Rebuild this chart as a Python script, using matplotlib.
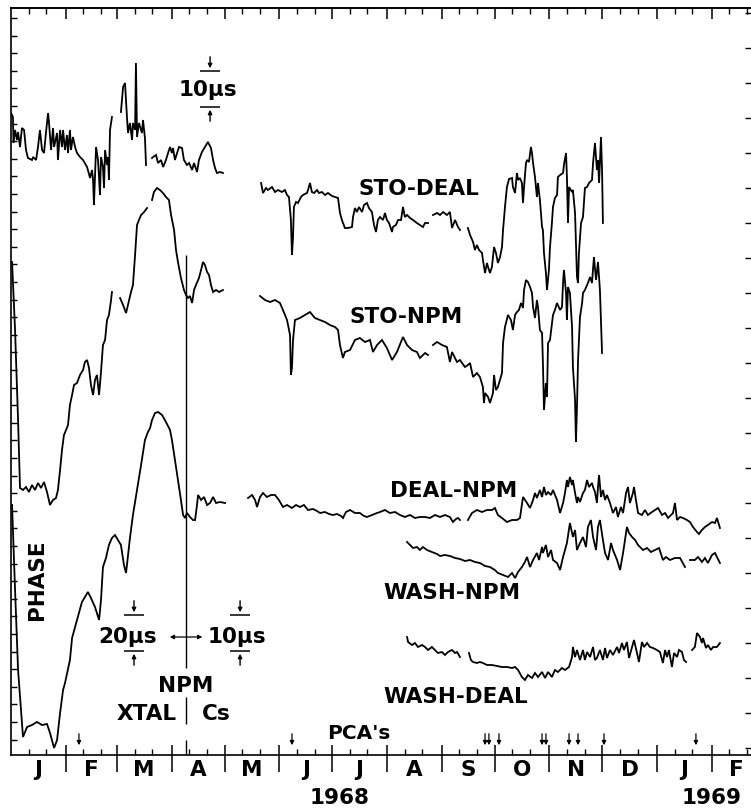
import matplotlib
matplotlib.use("Agg")
import matplotlib.pyplot as plt
import numpy as np

nan = np.nan

# x: days since 1 Jan 1968, y: phase (chart units, increasing downward)
sto_deal_day = [
    0.0, 1.1, 1.4, 2.3, 3.4, 4.0, 5.1, 6.2, 7.4, 8.5, 9.6, 11.9, 12.5, 14.2, 15.3, 16.4, 17.6, 18.7,
    19.8, 21.0, 21.5, 22.7, 23.8, 24.4, 26.1, 26.6, 27.8, 28.9, 29.5, 30.6, 31.7, 32.3, 33.4, 34.0,
    35.1, 36.3, 37.4, 39.1, 40.8, 43.1, 44.8, 45.9, 46.5, 47.0, 47.6, 48.2, 49.3, 49.9, 50.4, 51.0,
    52.1, 52.7, 53.3, 54.4, 55.0, 55.5, 56.1, 57.2, nan,
    62.3, 63.5, 64.6, 65.7, 66.3, 67.4, 68.6, 69.1, 70.3, 70.8, 71.4, 72.5, 74.2, 74.8, 75.9, 76.5, nan,
    79.9, 80.5, 82.2, 83.3, 85.0, 86.2, 87.8, 89.0, 90.1, 91.2, 91.8, 92.9, 94.1, 95.2, 96.9, 98.0,
    99.7, 100.9, 102.6, 103.7, 105.4, 106.5, 108.2, 109.9, 111.6, 113.3, 114.5, 115.6, 116.7, 118.4,
    120.1, nan,
    141.7, 142.8, 144.5, 145.6, 147.9, 149.6, 151.3, 153.5, 155.2, 156.4, 157.5, 158.6, 159.2, 159.8,
    160.3, 161.5, 162.6, 164.3, 165.4, 167.7, 168.3, 169.4, 170.5, 171.7, 173.4, 174.5, 176.2, 177.9,
    179.6, 181.9, 183.6, 185.3, 186.4, 187.5, 189.2, 190.9, 193.2, 193.8, 194.9, 196.0, 197.2, 198.9,
    200.0, 201.7, 202.8, 204.5, 205.7, 206.8, 207.9, 209.1, 210.8, 211.9, 213.0, 214.2, 215.9, 216.4,
    218.1, 219.3, 221.0, 222.1, 223.2, 224.4, 226.1, 227.8, 230.0, 231.7, 233.4, 234.6, 236.3, nan,
    239.1, 241.4, 243.1, 244.8, 247.0, 248.7, 249.9, 251.6, 253.3, 254.4, nan,
    258.9, 260.1, 261.8, 262.9, 264.0, 265.2, 266.9, 267.4, 268.6, 269.7, 270.3, 271.4, 272.5, 273.7,
    274.8, 275.9, 277.1, 278.2, 278.8, 279.9, 281.0, 282.2, 283.9, 284.4, 285.6, 286.7, 287.3, 288.4,
    289.5, 290.1, 290.7, 291.8, 292.4, 293.5, 294.6, 295.2, 295.8, 296.9, 298.0, 298.6, 299.7, 300.9,
    301.4, 302.0, 303.1, 303.7, 304.8, 305.4, 306.5, 307.1, 308.2, 309.4, 309.9, 311.1, 312.8, 313.3,
    314.5, 315.0, 315.6, 316.2, 317.9, 318.4, 319.6, 320.7, 321.3, 321.8, 323.0, 324.1, 325.2, 326.4,
    327.5, 329.2, 329.8, 330.9, 332.0, 332.6, 333.2, 334.3, 334.9, 335.4,
]
sto_deal_phase = [
    113, 117, 143, 130, 140, 132, 147, 128, 130, 150, 158, 160, 157, 160, 147, 130, 150, 153,
    133, 113, 122, 150, 128, 147, 133, 160, 130, 147, 130, 150, 135, 153, 130, 150,
    137, 147, 153, 157, 160, 167, 178, 170, 180, 205, 175, 147, 160, 178, 195, 157,
    167, 188, 150, 165, 157, 180, 130, 117, nan,
    112, 87, 83, 117, 133, 123, 140, 123, 130, 63, 137, 123, 133, 120, 138, 165, nan,
    158, 157, 155, 163, 160, 167, 160, 153, 147, 153, 148, 160, 153, 147, 148, 160,
    165, 163, 170, 163, 172, 160, 152, 147, 142, 148, 160, 168, 173, 172,
    173, nan,
    183, 193, 188, 190, 187, 192, 190, 192, 190, 195, 197, 220, 255, 237,
    207, 202, 203, 197, 195, 193, 190, 183, 192, 193, 190, 193, 192, 195,
    193, 196, 197, 198, 213, 220, 228, 228, 227, 217, 208, 212, 207, 212,
    205, 203, 208, 212, 225, 232, 220, 217, 220, 213, 220, 223, 232, 227,
    225, 220, 220, 207, 217, 215, 218, 220, 223, 225, 227, 223, 223, nan,
    215, 213, 215, 212, 215, 212, 228, 220, 227, 230, nan,
    228, 235, 242, 250, 245, 250, 253, 260, 273, 263, 267, 273, 267, 247,
    253, 263, 257, 247, 230, 207, 187, 179, 178, 187, 193, 173, 180, 178,
    183, 203, 187, 163, 160, 162, 147, 153, 163, 177, 197, 183, 200, 227,
    230, 253, 273, 290, 270, 247, 223, 207, 198, 195, 177, 175, 173, 165,
    153, 177, 223, 187, 192, 190, 213, 277, 283, 253, 223, 217, 188, 187,
    183, 180, 163, 143, 170, 160, 183, 137, 170, 223,
]

sto_npm_day = [
    0.6, 2.3, 4.0, 5.1, 6.8, 8.5, 10.2, 11.9, 13.6, 15.3, 17.0, 18.7, 20.4, 22.1, 23.8, 25.5, 26.6,
    27.8, 28.9, 30.0, 31.2, 32.3, 33.4, 34.6, 35.7, 37.4, 39.1, 40.8, 41.9, 43.1, 44.2, 45.3, 46.5,
    47.6, 48.7, 49.9, 51.0, 52.1, 53.3, 54.4, 55.5, 56.7, 57.2, nan,
    61.8, 63.5, 65.2, 66.9, 68.0, 69.1, 70.3, 71.4, 72.5, 73.7, 75.4, 77.1, nan,
    79.9, 81.0, 82.7, 84.4, 86.1, 87.8, 89.5, 90.7, 92.4, 93.5, 94.6, 96.3, 98.0, 99.2, 100.3, 101.4,
    102.6, 103.7, 104.8, 106.5, 107.7, 108.8, 109.9, 111.1, 112.2, 113.3, 114.5, 116.2, 117.9, 120.1, nan,
    141.1, 143.9, 146.8, 149.6, 152.4, 154.1, 156.4, 158.1, 158.6, 159.2, 159.8, 160.9, 163.7, 166.6,
    169.4, 172.2, 175.1, 177.9, 180.7, 183.6, 185.3, 186.4, 188.1, 189.2, 192.1, 194.9, 197.7, 200.6,
    203.4, 205.1, 207.4, 210.2, 213.0, 215.9, 218.7, 222.1, 224.4, 227.2, 230.0, 231.7, 234.6, 236.3, nan,
    239.1, 241.4, 244.2, 247.0, 248.7, 249.9, 252.7, 254.4, 257.2, 258.9, 260.1, 261.8, 264.0, 265.7,
    267.4, 268.0, 268.6, 270.3, 271.4, 273.1, 273.7, 274.8, 275.9, 278.2, 278.8, 279.9, 281.6, 283.3,
    284.4, 285.6, 286.7, 287.8, 289.0, 290.1, 290.7, 291.8, 292.9, 294.1, 295.2, 295.8, 296.9, 298.0,
    298.6, 299.7, 300.9, 301.4, 302.0, 303.1, 303.7, 304.3, 305.4, 307.1, 308.2, 309.4, 311.1, 312.2,
    312.8, 313.3, 314.5, 315.0, 315.6, 316.7, 317.9, 318.4, 319.6, 320.1, 320.7, 321.3, 322.4, 323.6,
    324.1, 325.2, 326.9, 328.1, 329.2, 330.3, 331.5, 332.6, 333.7, 334.9,
]
sto_npm_phase = [
    262, 330, 420, 488, 490, 487, 492, 485, 490, 483, 488, 482, 492, 505, 500, 498, 490,
    470, 450, 435, 430, 425, 405, 395, 385, 383, 375, 370, 362, 360, 368, 385, 395,
    380, 375, 395, 372, 345, 340, 320, 315, 300, 292, nan,
    298, 305, 313, 300, 292, 285, 255, 225, 220, 215, 212, 208, nan,
    200, 192, 188, 190, 193, 197, 200, 215, 230, 250, 262, 278, 290, 295, 298, 296,
    303, 290, 285, 278, 270, 262, 265, 272, 275, 285, 292, 290, 292, 290, nan,
    296, 300, 302, 300, 303, 310, 320, 335, 375, 368, 340, 320, 318, 315,
    312, 318, 320, 322, 325, 327, 330, 345, 358, 352, 350, 340, 338, 342,
    340, 352, 345, 340, 348, 360, 352, 337, 345, 350, 352, 358, 353, 355, nan,
    345, 342, 345, 347, 362, 352, 362, 360, 367, 365, 363, 377, 373, 377,
    387, 403, 393, 397, 403, 393, 375, 390, 387, 373, 343, 327, 315, 320,
    330, 315, 312, 310, 303, 308, 290, 280, 282, 287, 293, 307, 318, 300,
    307, 330, 333, 363, 410, 383, 397, 343, 340, 315, 310, 303, 310, 307,
    283, 270, 293, 320, 287, 293, 327, 367, 400, 442, 407, 360, 317, 303,
    293, 290, 283, 277, 283, 257, 280, 262, 290, 353,
]

deal_npm_day = [
    0.6, 2.3, 4.0, 6.8, 9.1, 11.9, 14.7, 17.6, 20.4, 22.1, 24.4, 26.1, 27.8, 29.5, 30.6, 33.4, 34.6,
    37.4, 40.2, 41.9, 43.6, 45.3, 47.6, 49.9, 51.0, 52.1, 53.8, 55.5, 57.2, 58.9, 60.6, 62.3, 64.0,
    65.2, 66.3, 67.4, 69.1, 71.4, 73.7, 75.9, 77.6, 78.8, 79.9, 81.6, 83.3, 85.6, 87.8, 90.1, 91.2,
    92.9, 94.6, 96.3, 97.5, 98.6, 99.7, 101.4, 103.1, 104.3, 105.4, 106.0, 107.7, 109.4, 111.1, 112.8,
    114.5, 116.2, 118.4, 121.3, nan,
    134.3, 136.6, 138.3, 139.4, 141.1, 142.8, 145.0, 147.3, 149.6, 151.8, 154.1, 156.4, 159.2, 161.5,
    163.7, 166.0, 168.3, 171.1, 173.4, 175.1, 177.9, 180.2, 182.4, 184.7, 187.0, 188.1, 189.8, 192.1,
    194.9, 197.7, 200.0, 201.7, 204.5, 207.4, 209.1, 211.9, 214.7, 217.6, 220.4, 223.2, 226.1, 228.9,
    231.7, 234.6, 237.4, 240.2, 243.1, 245.9, 248.7, 250.4, 252.1, 253.3, 254.4, nan,
    258.9, 261.2, 264.0, 266.9, 269.7, 272.5, 274.2, 275.9, 278.2, 281.0, 283.9, 286.7, 288.4, 290.1,
    292.4, 294.1, 295.8, 296.9, 298.0, 299.7, 300.9, 302.0, 303.1, 304.3, 306.0, 307.1, 309.4, 311.1,
    312.8, 313.9, 315.0, 315.6, 316.7, 317.9, 318.4, 319.6, 320.7, 321.3, 322.4, 324.1, 325.2, 326.4,
    327.5, 329.2, 329.8, 330.9, 332.0, 332.6, 333.2, 334.3, 335.4, 336.6, 337.7, 339.4, 341.1, 342.8,
    343.9, 345.6, 346.8, 348.5, 349.6, 350.7, 352.4, 353.0, 354.1, 355.3, 357.5, 359.2, 360.9, 363.2,
    364.9, 366.6, 368.9, 370.6, 372.3, 375.1, 376.2, 377.4, 379.1, 380.8, 383.0, 384.7, 386.4, 388.7,
    389.8, 391.5, 393.2, 394.9, 397.2, 398.9, 400.0, 401.7,
]
deal_npm_phase = [
    505, 590, 670, 737, 727, 725, 722, 725, 724, 733, 748, 740, 713, 690, 683, 660, 638,
    620, 602, 597, 592, 598, 607, 620, 600, 567, 558, 545, 538, 535, 540, 545, 565,
    573, 555, 538, 515, 490, 465, 440, 432, 428, 420, 413, 412, 415, 422, 430, 440,
    460, 480, 500, 515, 518, 513, 517, 520, 520, 505, 495, 500, 497, 505, 503,
    497, 503, 502, 503, nan,
    498, 495, 500, 507, 497, 493, 497, 495, 495, 500, 507, 505, 508, 505,
    507, 505, 510, 509, 511, 513, 512, 514, 515, 514, 516, 518, 512, 510,
    513, 513, 516, 517, 515, 513, 512, 510, 513, 512, 515, 517, 515, 518,
    517, 517, 518, 515, 517, 515, 517, 522, 519, 518, 520, nan,
    520, 513, 510, 512, 510, 510, 508, 515, 518, 522, 520, 520, 518, 497,
    503, 508, 500, 493, 498, 490, 497, 487, 495, 492, 495, 490, 500, 513,
    503, 493, 480, 487, 477, 485, 480, 493, 503, 497, 502, 493, 490, 480,
    487, 483, 487, 492, 503, 487, 475, 497, 490, 500, 495, 503, 513, 507,
    517, 507, 513, 493, 487, 503, 493, 487, 500, 513, 515, 510, 515, 512,
    510, 508, 515, 513, 518, 513, 503, 520, 517, 518, 520, 522, 527, 532,
    534, 530, 527, 525, 522, 523, 518, 528,
]

wash_npm_day = [
    224.4, 226.1, 227.8, 230.0, 231.7, 233.4, 235.7, 238.5, 241.4, 243.1, 245.9, 248.7, 251.6, 254.4,
    257.2, 260.1, 262.9, 265.7, 268.6, 271.4, 274.2, 275.9, 278.8, 281.6, 283.9, 285.6, 287.3, 289.5,
    291.2, 292.4, 294.1, 295.8, 298.0, 299.2, 300.9, 301.4, 303.1, 304.3, 306.0, 307.1, 309.4, 311.1,
    312.8, 315.0, 316.7, 318.4, 319.6, 320.7, 322.4, 324.1, 325.8, 326.9, 328.6, 329.8, 331.5, 332.6,
    333.7, 335.4, 336.6, 338.3, 340.0, 341.1, 343.4, 345.1, 346.8, 347.9, 349.0, 350.2, 351.9, 353.6,
    355.3, 358.1, 360.4, 362.6, 364.9, 367.2, 369.4, 371.1, 373.4, 376.2, 379.1, 381.9, nan,
    384.7, 387.5, 389.3, 391.5, 393.2, 394.9, 397.2, 398.9, 400.0, 401.7,
]
wash_npm_phase = [
    542, 545, 548, 547, 550, 547, 550, 552, 554, 556, 555, 556, 558, 559,
    561, 560, 562, 563, 566, 567, 570, 573, 575, 577, 573, 578, 572, 567,
    562, 557, 567, 560, 553, 560, 547, 553, 545, 557, 550, 560, 563, 570,
    557, 543, 523, 537, 530, 550, 543, 537, 547, 527, 520, 537, 550, 527,
    520, 540, 553, 560, 543, 550, 560, 570, 553, 540, 527, 533, 537, 540,
    545, 550, 548, 552, 550, 548, 560, 557, 560, 558, 558, 567, nan,
    560, 560, 557, 562, 558, 563, 555, 553, 557, 563,
]

wash_deal_day = [
    224.4, 225.0, 227.2, 228.9, 230.6, 232.9, 234.6, 236.3, 238.5, 240.2, 241.9, 244.2, 245.9, 247.6,
    249.9, 251.6, 252.7, 254.4, nan,
    259.5, 260.6, 261.8, 264.0, 265.7, 267.4, 269.7, 272.5, 275.4, 278.2, 281.0, 283.9, 285.6, 287.3,
    289.5, 291.2, 292.9, 295.2, 296.9, 298.6, 300.9, 302.6, 304.3, 306.5, 308.2, 309.9, 312.2, 313.9,
    316.2, 317.9, 318.4, 319.6, 320.7, 322.4, 324.1, 325.2, 326.4, 328.1, 329.8, 330.9, 332.0, 333.7,
    335.4, 336.6, 337.7, 339.4, 341.1, 343.4, 344.5, 346.2, 347.3, 349.0, 350.2, 351.9, 353.0, 354.7,
    355.8, 357.5, 358.7, 360.4, 362.0, 363.8, 366.0, 367.7, 369.4, 370.6, 371.7, 372.8, 374.5, 375.7,
    377.4, 378.5, 380.2, 381.3, 382.5, nan,
    385.9, 387.5, 388.7, 390.4, 391.5, 392.1, 393.8, 394.9, 396.6, 397.8, 400.0, 401.7,
]
wash_deal_phase = [
    637, 642, 645, 643, 647, 645, 647, 650, 647, 650, 653, 652, 655, 652,
    650, 653, 652, 657, nan,
    653, 660, 662, 663, 662, 663, 665, 665, 666, 667, 667, 668, 667, 670,
    677, 680, 675, 678, 673, 677, 672, 678, 672, 677, 670, 672, 668, 670,
    667, 657, 647, 657, 650, 660, 650, 660, 652, 657, 647, 660, 658, 650,
    660, 648, 658, 650, 655, 647, 653, 643, 650, 642, 658, 647, 640, 653,
    662, 642, 647, 643, 647, 648, 650, 652, 663, 650, 657, 650, 667, 653,
    657, 650, 652, 660, 662, nan,
    650, 647, 633, 637, 643, 638, 648, 645, 650, 647, 647, 643,
]

# solar proton events (PCA's)
pca_days = [38.5, 159.2, 268.6, 270.8, 276.5, 300.9, 303.1, 316.2, 321.3, 336.0, 388.1]

month_starts = [0, 31, 60, 91, 121, 152, 182, 213, 244, 274, 305, 335, 366, 397, 425]
month_labels = ["J", "F", "M", "A", "M", "J", "J", "A", "S", "O", "N", "D", "J", "F"]
npm_switch_day = 99.2

FONT = dict(family="DejaVu Sans", fontweight="bold", fontsize=15.5)

fig = plt.figure(figsize=(7.51, 8.11), dpi=100)
ax = fig.add_axes([11 / 751, 56 / 811, 740 / 751, 747 / 811])
ax.set_xlim(0, 419.3)
ax.set_ylim(755, 8)

for d, p in [(sto_deal_day, sto_deal_phase), (sto_npm_day, sto_npm_phase),
             (deal_npm_day, deal_npm_phase), (wash_npm_day, wash_npm_phase),
             (wash_deal_day, wash_deal_phase)]:
    ax.plot(d, p, color="black", lw=1.3, solid_joinstyle="miter")

# spines / ticks
for s in ["left", "top", "bottom"]:
    ax.spines[s].set_linewidth(1.2)
ax.spines["right"].set_visible(False)

centers = [(a + b) / 2 for a, b in zip(month_starts[:-1], month_starts[1:])]
ax.set_xticks(centers)
ax.set_xticklabels([])
ax.tick_params(axis="x", which="major", length=0)
ten_days = [m + k for m in month_starts[:-1] for k in (10, 20)]
ax.set_xticks(ten_days, minor=True)
ax.tick_params(axis="x", which="minor", direction="in", length=4, width=1, bottom=True, top=False)
ax.vlines(month_starts[1:-1], 745, 772, color="black", lw=1.1, clip_on=False)
for c, lab in zip(centers, month_labels):
    ax.text(c, 770, lab, ha="center", va="center", clip_on=False, **FONT)
ax.text(186, 798, "1968", ha="center", va="center", **FONT)
ax.text(397, 798, "1969", ha="center", va="center", **FONT)

top = ax.secondary_xaxis("top")
top.set_xticks(month_starts[1:-1])
top.set_xticks(ten_days, minor=True)
top.tick_params(which="major", direction="in", length=8, width=1.1, labeltop=False)
top.tick_params(which="minor", direction="in", length=4, width=1, labeltop=False)
top.spines["top"].set_linewidth(1.2)

ax.set_yticks(np.arange(18, 750, 17.6))
ax.tick_params(axis="y", direction="in", length=4, width=1, labelleft=False)
right = ax.secondary_yaxis("right")
right.set_yticks(np.arange(13, 750, 35))
right.tick_params(direction="in", length=4, width=1, labelright=False)
right.spines["right"].set_visible(False)

# NPM clock switch
ax.vlines(npm_switch_day, 255, 668, color="black", lw=1.0)
ax.vlines(npm_switch_day, 697, 724, color="black", lw=1.0)
ax.vlines(npm_switch_day, 740, 755, color="black", lw=1.0)

# PCA markers
for d in pca_days:
    ax.annotate("", xy=(d, 748), xytext=(d, 731),
                arrowprops=dict(arrowstyle="-|>", lw=0.9, color="black", mutation_scale=6))


def scale_mark(x, y_top, y_bot, half):
    ax.hlines([y_top, y_bot], x - half, x + half, color="black", lw=1.1)
    ax.annotate("", xy=(x, y_top), xytext=(x, y_top - 17),
                arrowprops=dict(arrowstyle="-|>", lw=1, color="black", mutation_scale=6))
    ax.annotate("", xy=(x, y_bot), xytext=(x, y_bot + 17),
                arrowprops=dict(arrowstyle="-|>", lw=1, color="black", mutation_scale=6))


scale_mark(112.8, 71, 107, 5.5)
ax.text(111.5, 90, "10μs", ha="center", va="center", **FONT)
scale_mark(69.7, 615, 651, 5.7)
ax.text(66.3, 637, "20μs", ha="center", va="center", **FONT)
scale_mark(129.8, 615, 651, 5.7)
ax.text(128.1, 637, "10μs", ha="center", va="center", **FONT)
ax.annotate("", xy=(88.4, 637), xytext=(110.0, 637),
            arrowprops=dict(arrowstyle="<|-|>", lw=0.9, color="black", mutation_scale=6))

ax.text(231, 189, "STO-DEAL", ha="center", va="center", **FONT)
ax.text(224, 317, "STO-NPM", ha="center", va="center", **FONT)
ax.text(251, 491, "DEAL-NPM", ha="center", va="center", **FONT)
ax.text(250, 593, "WASH-NPM", ha="center", va="center", **FONT)
ax.text(252, 697, "WASH-DEAL", ha="center", va="center", **FONT)
ax.text(14.7, 580, "PHASE", ha="center", va="center", rotation=90, **FONT)
ax.text(99.2, 686, "NPM", ha="center", va="center", **FONT)
ax.text(77.0, 714, "XTAL", ha="center", va="center", **FONT)
ax.text(116.5, 714, "Cs", ha="center", va="center", **FONT)
ax.text(197, 733, "PCA's", ha="center", va="center", **{**FONT, "fontsize": 14.5})

fig.savefig("out.png", dpi=100)
